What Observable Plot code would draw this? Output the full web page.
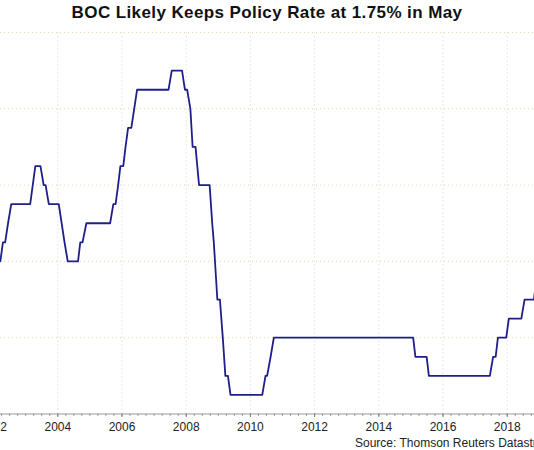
<!DOCTYPE html>
<html>
<head>
<meta charset="utf-8">
<script src="https://cdn.jsdelivr.net/npm/d3@7"></script>
<script src="https://cdn.jsdelivr.net/npm/@observablehq/plot@0.6"></script>
<style>
  html, body { margin: 0; padding: 0; background: #fff; }
  #wrap { position: relative; width: 534px; height: 450px; overflow: hidden; font-family: "Liberation Sans", Arial, sans-serif; }
  #title { height: 26px; line-height: 26px; text-align: center; font-weight: bold; font-size: 17px; letter-spacing: 0.4px; color: #111; }
  #chart { width: 614px; height: 409px; margin-left: -40px; }
  #chart svg { display: block; max-width: none !important; width: 614px; height: 409px; }
  #source { position: absolute; left: 355px; top: 435px; line-height: 16px; font-size: 12px; color: #222; white-space: nowrap; }
</style>
</head>
<body>
<div id="wrap">
  <div id="title">BOC Likely Keeps Policy Rate at 1.75% in May</div>
  <div id="chart"></div>
  <div id="source">Source: Thomson Reuters Datastream</div>
</div>
<script>
// Bank of Canada policy rate (%), vertices of the plotted line (decimal years)
const years = [
  2002.00, 2002.21, 2002.29, 2002.36, 2002.45, 2002.55, 2003.14, 2003.22, 2003.30, 2003.46,
  2003.56, 2003.62, 2003.72, 2004.03, 2004.12, 2004.21, 2004.31, 2004.63, 2004.70, 2004.77,
  2004.89, 2005.63, 2005.73, 2005.80, 2005.88, 2005.95, 2006.04, 2006.11, 2006.19, 2006.29,
  2006.38, 2006.47, 2007.45, 2007.55, 2007.87, 2007.96, 2008.03, 2008.13, 2008.20, 2008.29,
  2008.40, 2008.73, 2008.81, 2008.86, 2008.97, 2009.05, 2009.14, 2009.22, 2009.30, 2009.38,
  2010.37, 2010.47, 2010.52, 2010.63, 2010.73, 2015.07, 2015.14, 2015.49, 2015.56, 2017.46,
  2017.56, 2017.64, 2017.71, 2017.97, 2018.05, 2018.44, 2018.54, 2018.83, 2018.91, 2019.30
];
const rates = [
  2.00, 2.00, 2.25, 2.25, 2.50, 2.75, 2.75, 3.00, 3.25, 3.25,
  3.00, 3.00, 2.75, 2.75, 2.50, 2.25, 2.00, 2.00, 2.25, 2.25,
  2.50, 2.50, 2.75, 2.75, 3.00, 3.25, 3.25, 3.50, 3.75, 3.75,
  4.00, 4.25, 4.25, 4.50, 4.50, 4.25, 4.25, 4.00, 3.50, 3.50,
  3.00, 3.00, 2.50, 2.25, 1.50, 1.50, 1.00, 0.50, 0.50, 0.25,
  0.25, 0.50, 0.50, 0.75, 1.00, 1.00, 0.75, 0.75, 0.50, 0.50,
  0.75, 0.75, 1.00, 1.00, 1.25, 1.25, 1.50, 1.50, 1.75, 1.75
];
const tickYears = [2002, 2004, 2006, 2008, 2010, 2012, 2014, 2016, 2018];
const gridRates = [1, 2, 3, 4, 5];

const data = years.map((y, i) => ({year: y, rate: rates[i]}));
const minorTicks = d3.range(2002, 2019.01, 0.25);

const chart = Plot.plot({
  width: 614,
  height: 409,
  marginLeft: 40,
  marginRight: 40,
  marginTop: 6,
  marginBottom: 21.5,
  style: {fontFamily: "'Liberation Sans', Arial, sans-serif", fontSize: "12px", background: "transparent"},
  x: {domain: [2002.215, 2018.85], axis: null},
  y: {domain: [0, 5], axis: null},
  marks: [
    Plot.ruleX(tickYears, {x: d => d, y1: 0, y2: 5, stroke: "#d9d2c2", strokeDasharray: "1,3", strokeWidth: 1}),
    Plot.ruleY(gridRates, {y: d => d, stroke: "#ecd0ac", strokeDasharray: "1,3", strokeWidth: 1}),
    Plot.axisX(minorTicks, {tickSize: 2.5, tickFormat: null, text: null, stroke: "#9a9a9a", label: null}),
    Plot.axisX(tickYears, {tickSize: 3.5, tickPadding: 5, tickFormat: d => String(d), stroke: "#777", fill: "#222", fontSize: 12, label: null}),
    Plot.ruleY([0], {stroke: "#9a9a9a", strokeWidth: 1}),
    Plot.line(data, {x: "year", y: "rate", stroke: "#1f1f8a", strokeWidth: 1.8})
  ]
});
document.getElementById("chart").appendChild(chart);
</script>
</body>
</html>
